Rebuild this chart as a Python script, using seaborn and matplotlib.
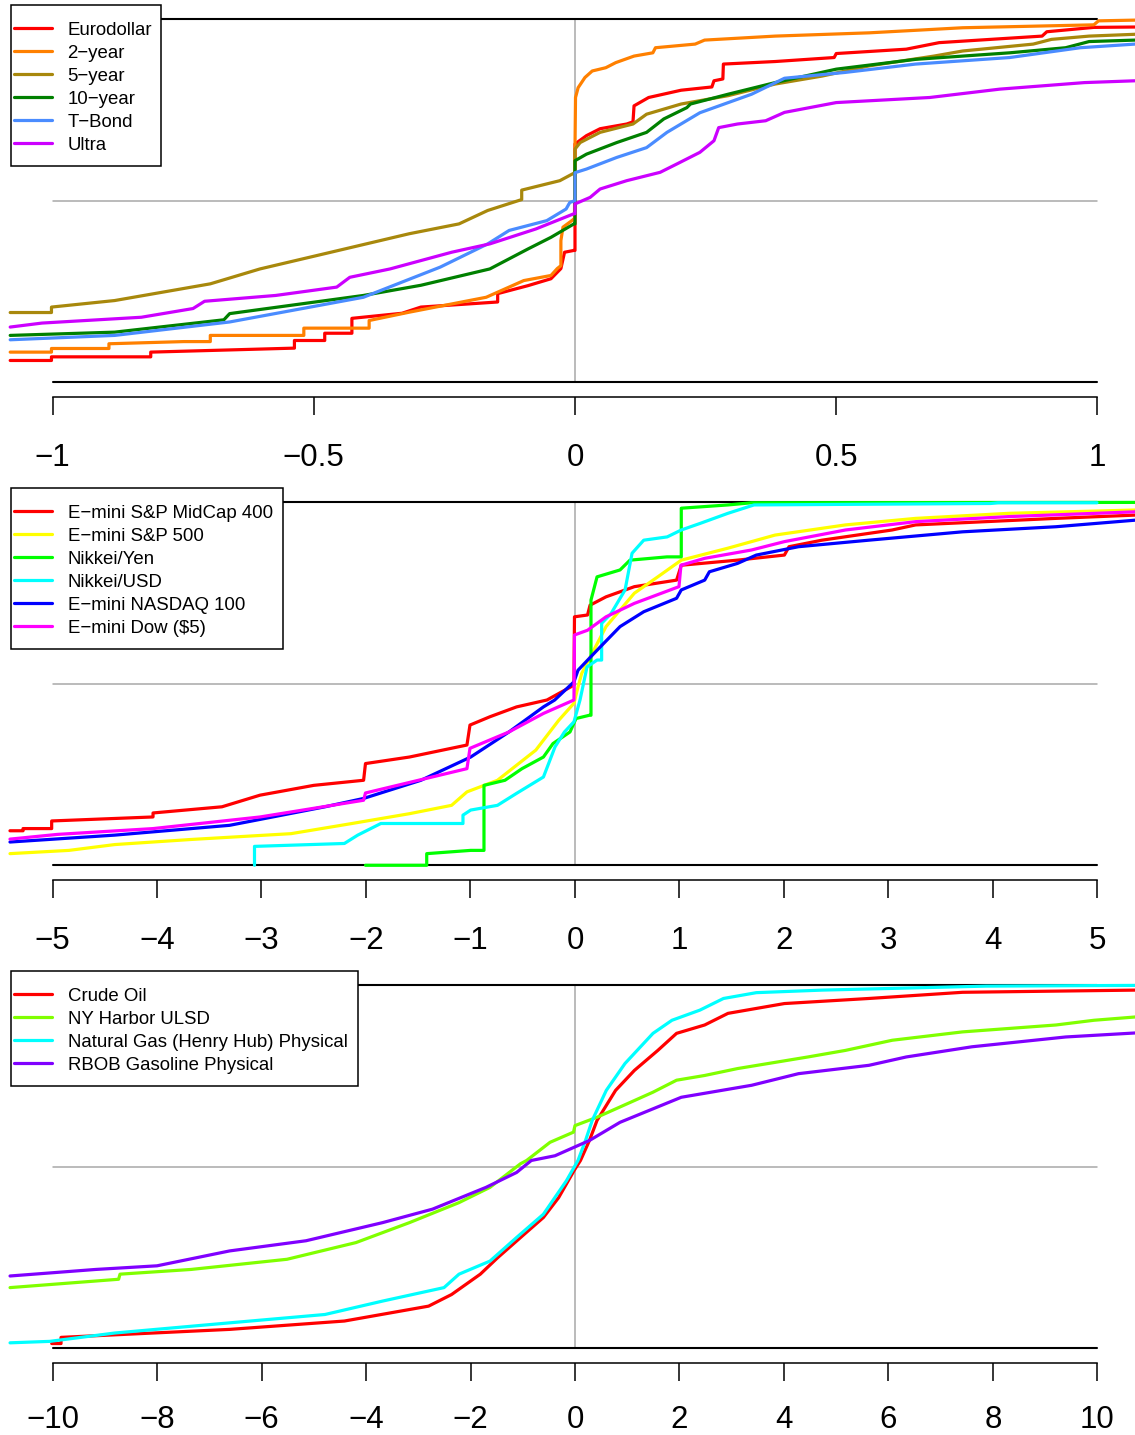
import numpy as np
import pandas as pd
import matplotlib
matplotlib.use("Agg")
import matplotlib.pyplot as plt
import seaborn as sns
from matplotlib.patches import Rectangle
from matplotlib.lines import Line2D

sns.set_theme(style="white")
plt.rcParams['font.family'] = ['Liberation Sans', 'DejaVu Sans']

M = "\u2212"

# ---------------- Panel 1: interest rate futures ----------------
p1_labels = ["Eurodollar", "2" + M + "year", "5" + M + "year", "10" + M + "year", "T" + M + "Bond", "Ultra"]
p1_colors = ["#FF0000", "#FF8000", "#A8880C", "#008000", "#4A8CFF", "#CC00FF"]
p1_ticks = [-1, -0.5, 0, 0.5, 1]
p1_ticklabels = [M + "1", M + "0.5", "0", "0.5", "1"]

euro_x = [-1.081, -1.002, -1.002, -0.812, -0.812, -0.537, -0.537, -0.479, -0.479, -0.427, -0.427, -0.331, -0.295, -0.148, -0.148, -0.090, -0.046, -0.027, -0.020, -0.002, 0.0, 0.0, 0.022, 0.048, 0.099, 0.111, 0.113, 0.141, 0.203, 0.262, 0.266, 0.283, 0.284, 0.383, 0.496, 0.500, 0.634, 0.697, 0.894, 0.903, 0.993, 1.072]
euro_y = [0.060, 0.060, 0.070, 0.070, 0.083, 0.094, 0.115, 0.115, 0.135, 0.135, 0.176, 0.190, 0.207, 0.221, 0.244, 0.266, 0.285, 0.313, 0.358, 0.363, 0.363, 0.656, 0.679, 0.698, 0.711, 0.717, 0.761, 0.784, 0.804, 0.813, 0.830, 0.835, 0.876, 0.883, 0.894, 0.905, 0.917, 0.935, 0.953, 0.965, 0.977, 0.978]

two_x = [-1.081, -1.002, -1.002, -0.892, -0.892, -0.749, -0.698, -0.698, -0.519, -0.519, -0.394, -0.394, -0.317, -0.170, -0.098, -0.046, -0.034, -0.027, -0.027, -0.023, -0.006, -0.001, 0.0, 0.001, 0.006, 0.019, 0.033, 0.059, 0.078, 0.113, 0.149, 0.154, 0.230, 0.248, 0.383, 0.563, 0.742, 0.993, 1.002, 1.072]
two_y = [0.083, 0.083, 0.093, 0.093, 0.106, 0.112, 0.112, 0.129, 0.129, 0.149, 0.149, 0.170, 0.193, 0.234, 0.280, 0.294, 0.313, 0.321, 0.390, 0.427, 0.445, 0.451, 0.646, 0.784, 0.811, 0.839, 0.857, 0.866, 0.880, 0.898, 0.907, 0.921, 0.931, 0.942, 0.953, 0.962, 0.976, 0.984, 0.995, 0.997]

five_x = [-1.081, -1.002, -1.002, -0.881, -0.698, -0.603, -0.479, -0.317, -0.222, -0.167, -0.102, -0.102, -0.029, -0.003, 0.0, 0.0, 0.010, 0.048, 0.111, 0.137, 0.203, 0.293, 0.383, 0.473, 0.563, 0.687, 0.742, 0.877, 0.912, 0.984, 1.072]
five_y = [0.192, 0.192, 0.207, 0.225, 0.271, 0.312, 0.354, 0.409, 0.436, 0.473, 0.503, 0.529, 0.555, 0.575, 0.575, 0.642, 0.660, 0.688, 0.711, 0.738, 0.766, 0.789, 0.821, 0.843, 0.871, 0.898, 0.912, 0.931, 0.944, 0.953, 0.958]

ten_x = [-1.081, -0.881, -0.672, -0.661, -0.405, -0.295, -0.163, -0.090, -0.046, -0.002, 0.0, 0.0, 0.022, 0.080, 0.137, 0.170, 0.214, 0.221, 0.293, 0.383, 0.500, 0.652, 0.832, 0.939, 0.984, 1.072]
ten_y = [0.129, 0.138, 0.172, 0.189, 0.239, 0.267, 0.312, 0.367, 0.399, 0.436, 0.436, 0.610, 0.628, 0.660, 0.688, 0.725, 0.756, 0.766, 0.793, 0.825, 0.862, 0.889, 0.907, 0.921, 0.938, 0.942]

tbond_x = [-1.081, -0.881, -0.661, -0.405, -0.258, -0.167, -0.126, -0.054, -0.017, -0.010, 0.0, 0.0, 0.022, 0.080, 0.137, 0.176, 0.239, 0.338, 0.401, 0.517, 0.652, 0.832, 0.967, 1.072]
tbond_y = [0.117, 0.129, 0.166, 0.234, 0.317, 0.381, 0.418, 0.445, 0.477, 0.495, 0.500, 0.577, 0.587, 0.619, 0.646, 0.688, 0.742, 0.793, 0.837, 0.853, 0.876, 0.894, 0.921, 0.931]

ultra_x = [-1.081, -1.020, -0.830, -0.731, -0.709, -0.573, -0.456, -0.431, -0.354, -0.236, -0.163, -0.075, -0.002, 0.0, 0.0, 0.029, 0.048, 0.099, 0.163, 0.195, 0.239, 0.266, 0.275, 0.311, 0.365, 0.401, 0.500, 0.679, 0.813, 0.975, 1.072]
ultra_y = [0.152, 0.163, 0.179, 0.203, 0.223, 0.239, 0.262, 0.289, 0.312, 0.358, 0.381, 0.422, 0.464, 0.464, 0.491, 0.509, 0.532, 0.555, 0.578, 0.601, 0.633, 0.665, 0.701, 0.711, 0.720, 0.743, 0.770, 0.784, 0.807, 0.825, 0.830]

# ---------------- Panel 2: equity index futures ----------------
p2_labels = ["E" + M + "mini S&P MidCap 400", "E" + M + "mini S&P 500", "Nikkei/Yen", "Nikkei/USD", "E" + M + "mini NASDAQ 100", "E" + M + "mini Dow ($5)"]
p2_colors = ["#FF0000", "#FFFF00", "#00FF00", "#00FFFF", "#0000FF", "#FF00FF"]
p2_ticks = [-5, -4, -3, -2, -1, 0, 1, 2, 3, 4, 5]
p2_ticklabels = [M + "5", M + "4", M + "3", M + "2", M + "1", "0", "1", "2", "3", "4", "5"]

midcap_x = [-5.407, -5.282, -5.282, -5.008, -5.008, -4.038, -4.038, -3.378, -3.014, -2.500, -2.023, -2.005, -1.584, -1.034, -1.005, -0.813, -0.559, -0.268, -0.010, -0.005, 0.120, 0.144, 0.297, 0.568, 0.972, 1.017, 1.555, 2.004, 2.048, 2.364, 3.034, 3.260, 3.933, 4.603, 5.359]
midcap_y = [0.095, 0.095, 0.101, 0.101, 0.122, 0.133, 0.144, 0.161, 0.193, 0.220, 0.234, 0.280, 0.298, 0.331, 0.386, 0.409, 0.436, 0.455, 0.496, 0.684, 0.689, 0.716, 0.739, 0.767, 0.785, 0.826, 0.840, 0.854, 0.877, 0.895, 0.923, 0.937, 0.946, 0.955, 0.964]

sp500_x = [-5.407, -4.842, -4.404, -3.675, -2.718, -2.134, -1.584, -1.181, -1.034, -0.742, -0.375, -0.156, -0.010, 0.029, 0.064, 0.163, 0.297, 0.568, 0.792, 1.017, 1.464, 1.914, 2.588, 3.260, 4.158, 5.359]
sp500_y = [0.032, 0.041, 0.057, 0.071, 0.087, 0.115, 0.142, 0.165, 0.202, 0.234, 0.317, 0.399, 0.446, 0.491, 0.528, 0.583, 0.657, 0.749, 0.794, 0.840, 0.873, 0.909, 0.937, 0.955, 0.969, 0.978]

yen_x = [-2.005, -1.419, -1.419, -0.998, -0.871, -0.871, -0.670, -0.507, -0.302, -0.211, -0.048, 0.010, 0.138, 0.153, 0.153, 0.211, 0.431, 0.526, 0.880, 1.017, 1.017, 1.464, 1.690, 5.359]
yen_y = [0.0, 0.0, 0.032, 0.041, 0.041, 0.220, 0.234, 0.266, 0.298, 0.335, 0.367, 0.404, 0.413, 0.413, 0.730, 0.794, 0.813, 0.840, 0.849, 0.849, 0.983, 0.992, 0.998, 0.999]

usd_x = [-3.067, -3.067, -2.207, -2.079, -1.858, -1.072, -1.072, -0.998, -0.742, -0.559, -0.302, -0.191, -0.101, -0.010, 0.048, 0.115, 0.211, 0.255, 0.255, 0.345, 0.479, 0.546, 0.658, 0.882, 1.017, 1.196, 1.464, 1.713, 3.978, 4.048, 4.995]
usd_y = [0.0, 0.052, 0.060, 0.083, 0.115, 0.115, 0.138, 0.152, 0.165, 0.198, 0.243, 0.326, 0.367, 0.395, 0.455, 0.546, 0.565, 0.565, 0.666, 0.693, 0.758, 0.859, 0.895, 0.904, 0.923, 0.941, 0.969, 0.992, 0.996, 0.998, 0.998]

nasdaq_x = [-5.407, -4.404, -3.305, -2.392, -2.023, -1.474, -0.998, -0.632, -0.302, -0.194, -0.010, 0.029, 0.211, 0.431, 0.658, 0.972, 1.017, 1.241, 1.286, 1.555, 1.735, 2.139, 2.813, 3.709, 4.603, 5.359]
nasdaq_y = [0.064, 0.083, 0.110, 0.161, 0.184, 0.234, 0.298, 0.367, 0.436, 0.455, 0.505, 0.537, 0.592, 0.657, 0.698, 0.735, 0.758, 0.785, 0.808, 0.831, 0.854, 0.877, 0.895, 0.918, 0.932, 0.950]

dow_x = [-5.407, -4.953, -4.038, -3.014, -2.023, -2.005, -1.034, -1.005, -0.632, -0.302, -0.010, -0.005, 0.120, 0.297, 0.568, 0.995, 1.014, 1.241, 1.690, 2.004, 2.588, 3.260, 4.158, 5.359]
dow_y = [0.072, 0.085, 0.101, 0.133, 0.179, 0.199, 0.266, 0.322, 0.367, 0.418, 0.455, 0.634, 0.647, 0.684, 0.721, 0.767, 0.826, 0.845, 0.868, 0.891, 0.923, 0.946, 0.960, 0.973]

# ---------------- Panel 3: energy futures ----------------
p3_labels = ["Crude Oil", "NY Harbor ULSD", "Natural Gas (Henry Hub) Physical", "RBOB Gasoline Physical"]
p3_colors = ["#FF0000", "#80FF00", "#00FFFF", "#8000FF"]
p3_ticks = [-10, -8, -6, -4, -2, 0, 2, 4, 6, 8, 10]
p3_ticklabels = [M + "10", M + "8", M + "6", M + "4", M + "2", "0", "2", "4", "6", "8", "10"]

crude_x = [-10.015, -9.837, -9.837, -8.660, -6.610, -4.413, -2.802, -2.362, -1.812, -1.483, -0.970, -0.605, -0.312, -0.019, 0.105, 0.276, 0.421, 0.777, 1.137, 1.585, 1.944, 2.482, 2.928, 4.008, 5.627, 7.418, 10.718]
crude_y = [0.013, 0.013, 0.030, 0.038, 0.052, 0.075, 0.116, 0.148, 0.204, 0.249, 0.314, 0.360, 0.415, 0.489, 0.517, 0.572, 0.627, 0.710, 0.765, 0.820, 0.867, 0.890, 0.922, 0.949, 0.963, 0.980, 0.986]

ulsd_x = [-10.813, -8.735, -8.708, -7.349, -5.512, -4.191, -3.167, -2.220, -1.627, -1.043, -0.926, -0.478, -0.029, 0.0, 0.421, 1.137, 1.493, 1.944, 2.482, 3.110, 4.459, 5.175, 6.073, 7.418, 9.206, 9.933, 10.718]
ulsd_y = [0.167, 0.190, 0.204, 0.217, 0.245, 0.291, 0.346, 0.401, 0.443, 0.508, 0.517, 0.567, 0.595, 0.613, 0.636, 0.682, 0.705, 0.738, 0.751, 0.770, 0.802, 0.820, 0.848, 0.871, 0.890, 0.903, 0.912]

gas_x = [-10.813, -10.053, -8.808, -6.610, -4.785, -3.680, -2.507, -2.220, -1.627, -1.118, -0.605, -0.165, 0.057, 0.201, 0.329, 0.599, 0.957, 1.493, 1.856, 2.392, 2.842, 3.470, 4.727, 7.866, 10.718]
gas_y = [0.015, 0.019, 0.042, 0.070, 0.093, 0.130, 0.167, 0.204, 0.240, 0.305, 0.369, 0.461, 0.517, 0.572, 0.627, 0.710, 0.784, 0.867, 0.903, 0.931, 0.963, 0.979, 0.986, 0.997, 0.999]

rbob_x = [-10.813, -9.173, -8.000, -6.610, -5.148, -3.680, -2.727, -1.703, -1.118, -0.836, -0.383, 0.276, 0.861, 2.034, 3.380, 4.278, 5.627, 6.341, 7.598, 9.391, 10.718]
rbob_y = [0.199, 0.217, 0.227, 0.268, 0.296, 0.346, 0.383, 0.443, 0.484, 0.517, 0.530, 0.572, 0.622, 0.691, 0.724, 0.756, 0.779, 0.802, 0.830, 0.857, 0.868]

# ---------------- Layout ----------------
W, H = 1135, 1435
fig = plt.figure(figsize=(W / 100, H / 100), dpi=100)
fig.patch.set_facecolor("white")

panels = [
    dict(top=4.5, bottom=396.8, xlim=(-1.1005, 1.0718), ticks=p1_ticks, ticklabels=p1_ticklabels,
         series=[(euro_x, euro_y), (two_x, two_y), (five_x, five_y), (ten_x, ten_y), (tbond_x, tbond_y), (ultra_x, ultra_y)],
         labels=p1_labels, colors=p1_colors, legend_right=161, pad=20.5),
    dict(top=487.5, bottom=879.8, xlim=(-5.5024, 5.3589), ticks=p2_ticks, ticklabels=p2_ticklabels,
         series=[(midcap_x, midcap_y), (sp500_x, sp500_y), (yen_x, yen_y), (usd_x, usd_y), (nasdaq_x, nasdaq_y), (dow_x, dow_y)],
         labels=p2_labels, colors=p2_colors, legend_right=282.5, pad=20.5),
    dict(top=970.5, bottom=1362.8, xlim=(-11.005, 10.718), ticks=p3_ticks, ticklabels=p3_ticklabels,
         series=[(crude_x, crude_y), (ulsd_x, ulsd_y), (gas_x, gas_y), (rbob_x, rbob_y)],
         labels=p3_labels, colors=p3_colors, legend_right=357.5, pad=17.5),
]

GRAY = "#A8A8A8"
for p in panels:
    ax = fig.add_axes([0, 1 - p["bottom"] / H, 1, (p["bottom"] - p["top"]) / H])
    ax.set_facecolor("none")
    lo, hi = p["ticks"][0], p["ticks"][-1]
    # reference lines
    ax.plot([lo, hi], [0.5, 0.5], color=GRAY, lw=1.1, zorder=1)
    ax.plot([0, 0], [0, 1], color=GRAY, lw=1.1, zorder=1)
    ax.plot([lo, hi], [0, 0], color="black", lw=1.5, zorder=1)
    ax.plot([lo, hi], [1, 1], color="black", lw=1.5, zorder=1)
    # curves
    for (xs, ys), c in zip(p["series"], p["colors"]):
        df = pd.DataFrame({"x": xs, "y": ys})
        sns.lineplot(data=df, x="x", y="y", sort=False, estimator=None, color=c,
                     linewidth=2.3, ax=ax, zorder=2, legend=False)
    ax.set_xlim(p["xlim"])
    ax.set_ylim(-0.04, 1.04)
    for s in ["top", "left", "right"]:
        ax.spines[s].set_visible(False)
    ax.spines["bottom"].set_bounds(lo, hi)
    ax.spines["bottom"].set_linewidth(1.1)
    ax.spines["bottom"].set_color("black")
    ax.set_xticks(p["ticks"])
    ax.set_xticklabels(p["ticklabels"])
    ax.set_yticks([])
    ax.set_xlabel("")
    ax.set_ylabel("")
    ax.tick_params(axis="x", direction="out", length=13, width=1.1, pad=p["pad"],
                   labelsize=22.5, colors="black", bottom=True)

    # legend box (R style)
    n = len(p["labels"])
    top = p["top"] + 0.5
    bottom = top + 23 * (n + 1)
    left = 10.5
    right = p["legend_right"]
    fig.add_artist(Rectangle((left / W, 1 - bottom / H), (right - left) / W, (bottom - top) / H,
                             transform=fig.transFigure, facecolor="white", edgecolor="black",
                             lw=1.1, zorder=10))
    for i, (lab, c) in enumerate(zip(p["labels"], p["colors"])):
        row = top + 23 * (i + 1)
        yy = 1 - row / H
        fig.add_artist(Line2D([13.5 / W, 52 / W], [yy, yy], transform=fig.transFigure,
                              color=c, lw=2.3, zorder=11))
        fig.text(67.5 / W, 1 - (row + 6.7) / H, lab, fontsize=13.4, va="baseline", ha="left",
                 zorder=11, color="black")

fig.savefig("out.png", dpi=100, facecolor="white")
